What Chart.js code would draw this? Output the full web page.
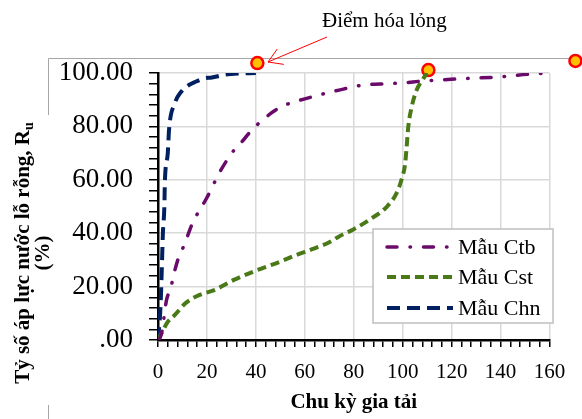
<!DOCTYPE html>
<html lang="vi">
<head>
    <meta charset="UTF-8">
    <title>Tỷ số áp lực nước lỗ rỗng</title>
    <script src="https://cdn.jsdelivr.net/npm/chart.js"></script>
    <style>
        body {
            margin: 0;
            background: #ffffff;
        }
        #ruChart {
            display: block;
        }
    </style>
</head>
<body>
    <canvas id="ruChart" width="582" height="419"></canvas>

    <script>
        // cycle counts / pore pressure ratio
        const ctbX = [0, 0.8, 1.9, 2.6, 3.5, 5.2, 6.5, 8.1, 10.2, 12.2, 14.2, 17, 19.8, 25, 28.3, 31, 35, 38.6, 43, 47, 52, 60, 74, 84, 94, 100, 108, 115, 127, 139, 151, 160];
        const ctbY = [0, 0.7, 4.5, 9.7, 15, 19.5, 24.7, 30, 34.5, 39.3, 44, 48.7, 53, 62.5, 67.5, 71, 75, 79, 82.5, 85.5, 88, 90.3, 93.6, 95.5, 96, 96.3, 97, 97.4, 98, 98.5, 99.5, 100];

        const cstX = [0, 2, 3.7, 6.9, 11.4, 17, 23, 31, 40.6, 49.5, 56.4, 63, 70, 74, 80, 86, 93.4, 97.5, 99.5, 101, 101.5, 102.3, 103.6, 105.7, 108.5, 110];
        const cstY = [0, 3.5, 6.4, 9.4, 13.9, 16.9, 18.7, 22.5, 26.2, 29.2, 31.8, 34, 36.6, 38.8, 41.5, 44.8, 49.8, 55, 60, 66, 71, 80, 87, 93.6, 98, 100];

        const chnX = [0, 1, 1.5, 2, 2.6, 2.8, 4, 4.5, 6.9, 9.5, 12.6, 15, 19, 22, 27, 33, 40];
        const chnY = [0, 12, 25, 40, 50, 59, 70, 78.6, 88.7, 93, 95.5, 96.6, 98, 98.3, 99.3, 99.8, 100];

        // liquefaction points (Điểm hóa lỏng)
        const markX = [40.6, 110.5, 170.6];
        const markY = [103.7, 101.1, 104.5];

        const seriesNames = ['Mẫu Ctb', 'Mẫu Cst', 'Mẫu Chn'];
        const xTicksMajor = 20;
        const yTicksMajor = 20;

        const serif = "'Liberation Serif', 'Times New Roman', serif";

        function toPoints(xs, ys) {
            return xs.map((x, i) => ({ x: x, y: ys[i] }));
        }

        // frame lines, titles, annotation and legend box
        const extras = {
            id: 'extras',
            beforeDraw(chart) {
                const ctx = chart.ctx;
                ctx.save();
                ctx.strokeStyle = '#a6a6a6';
                ctx.lineWidth = 1;
                ctx.beginPath();
                ctx.moveTo(48.5, 115);
                ctx.lineTo(48.5, 58.5);
                ctx.lineTo(582, 58.5);
                ctx.moveTo(48.5, 405);
                ctx.lineTo(48.5, 419);
                ctx.stroke();
                ctx.restore();
            },
            afterDraw(chart) {
                const ctx = chart.ctx;
                ctx.save();

                // y axis title with subscript
                ctx.translate(24, 253);
                ctx.rotate(-Math.PI / 2);
                ctx.fillStyle = '#000';
                ctx.textBaseline = 'middle';
                ctx.textAlign = 'left';
                const mainTxt = 'Tỷ số áp lực nước lỗ rỗng, R';
                ctx.font = 'bold 21px ' + serif;
                const w1 = ctx.measureText(mainTxt).width;
                ctx.font = 'bold 14px ' + serif;
                const w2 = ctx.measureText('u').width;
                const start = -(w1 + w2) / 2;
                ctx.font = 'bold 21px ' + serif;
                ctx.fillText(mainTxt, start, 0);
                ctx.font = 'bold 14px ' + serif;
                ctx.fillText('u', start + w1, 5);
                ctx.font = 'bold 21px ' + serif;
                ctx.textAlign = 'center';
                ctx.fillText('(%)', 0, 20);
                ctx.setTransform(1, 0, 0, 1, 0, 0);

                // annotation
                ctx.font = '21px ' + serif;
                ctx.textAlign = 'left';
                ctx.textBaseline = 'alphabetic';
                ctx.fillText('Điểm hóa lỏng', 322, 27);
                const tx = 327, ty = 37, hx = 268, hy = 62;
                const ang = Math.atan2(ty - hy, tx - hx);
                ctx.strokeStyle = '#ff0000';
                ctx.lineWidth = 1;
                ctx.beginPath();
                ctx.moveTo(tx, ty);
                ctx.lineTo(hx, hy);
                [-0.55, 0.55].forEach(d => {
                    ctx.moveTo(hx, hy);
                    ctx.lineTo(hx + 16 * Math.cos(ang + d), hy + 16 * Math.sin(ang + d));
                });
                ctx.stroke();

                // legend
                ctx.fillStyle = '#ffffff';
                ctx.fillRect(373, 229, 180, 94);
                ctx.strokeStyle = '#bfbfbf';
                ctx.lineWidth = 1.5;
                ctx.strokeRect(373, 229, 180, 94);
                const rows = [247, 277, 308];
                chart.data.datasets.slice(0, 3).forEach((ds, i) => {
                    ctx.strokeStyle = ds.borderColor;
                    ctx.lineWidth = ds.borderWidth;
                    ctx.lineCap = ds.borderCapStyle || 'butt';
                    ctx.setLineDash(ds.borderDash);
                    ctx.beginPath();
                    ctx.moveTo(387, rows[i]);
                    ctx.lineTo(453, rows[i]);
                    ctx.stroke();
                    ctx.setLineDash([]);
                    ctx.fillStyle = '#000';
                    ctx.font = '22px ' + serif;
                    ctx.textBaseline = 'middle';
                    ctx.fillText(ds.label, 458, rows[i] + 1);
                });
                ctx.restore();
            }
        };

        const ctx = document.getElementById('ruChart').getContext('2d');
        const ruChart = new Chart(ctx, {
            type: 'line',
            data: {
                datasets: [{
                    label: seriesNames[0],
                    data: toPoints(ctbX, ctbY),
                    borderColor: '#6a0a6a',
                    borderWidth: 3.5,
                    borderDash: [10, 13, 0.5, 13],
                    borderCapStyle: 'round',
                    pointRadius: 0,
                    cubicInterpolationMode: 'monotone'
                }, {
                    label: seriesNames[1],
                    data: toPoints(cstX, cstY),
                    borderColor: '#4a7a18',
                    borderWidth: 4,
                    borderDash: [9, 5],
                    pointRadius: 0,
                    cubicInterpolationMode: 'monotone'
                }, {
                    label: seriesNames[2],
                    data: toPoints(chnX, chnY),
                    borderColor: '#002060',
                    borderWidth: 4,
                    borderDash: [13, 7],
                    pointRadius: 0,
                    cubicInterpolationMode: 'monotone'
                }, {
                    label: 'Điểm hóa lỏng',
                    data: toPoints(markX, markY),
                    showLine: false,
                    pointRadius: 6,
                    pointHoverRadius: 30,
                    pointBackgroundColor: '#ffc000',
                    pointBorderColor: '#ff0000',
                    pointBorderWidth: 2.5,
                    clip: false
                }]
            },
            options: {
                responsive: false,
                animation: false,
                devicePixelRatio: 1,
                events: [],
                layout: {
                    padding: { left: 0, top: 73, right: 30, bottom: 0 }
                },
                scales: {
                    x: {
                        type: 'linear',
                        min: 0,
                        max: 160,
                        afterFit: s => { s.height = 79; },
                        grid: {
                            color: c => c.tick && c.tick.value % xTicksMajor === 0 ? '#d9d9d9' : 'rgba(0,0,0,0)',
                            lineWidth: 1.5,
                            tickColor: '#000',
                            tickWidth: 1.5,
                            tickLength: 7
                        },
                        border: { color: '#000', width: 2.5 },
                        ticks: {
                            stepSize: 4,
                            autoSkip: false,
                            maxRotation: 0,
                            padding: 13,
                            color: '#000',
                            font: { family: serif, size: 21 },
                            callback: v => v % xTicksMajor === 0 ? String(v) : ''
                        },
                        title: {
                            display: true,
                            text: 'Chu kỳ gia tải',
                            color: '#000',
                            padding: { top: 4, bottom: 4 },
                            font: { family: serif, size: 21, weight: 'bold' }
                        }
                    },
                    y: {
                        min: 0,
                        max: 100,
                        afterFit: s => { s.width = 158; },
                        grid: {
                            color: c => c.tick && c.tick.value % yTicksMajor === 0 ? '#d9d9d9' : 'rgba(0,0,0,0)',
                            lineWidth: 1.5,
                            tickColor: '#000',
                            tickWidth: 1.5,
                            tickLength: 9
                        },
                        border: { color: '#000', width: 2.5 },
                        ticks: {
                            stepSize: 4,
                            autoSkip: false,
                            padding: 16,
                            color: '#000',
                            font: { family: serif, size: 27 },
                            callback: v => v % yTicksMajor === 0 ? (v === 0 ? '.00' : v.toFixed(2)) : ''
                        }
                    }
                },
                plugins: {
                    legend: { display: false },
                    tooltip: { enabled: false }
                }
            },
            plugins: [extras]
        });
    </script>
</body>
</html>
